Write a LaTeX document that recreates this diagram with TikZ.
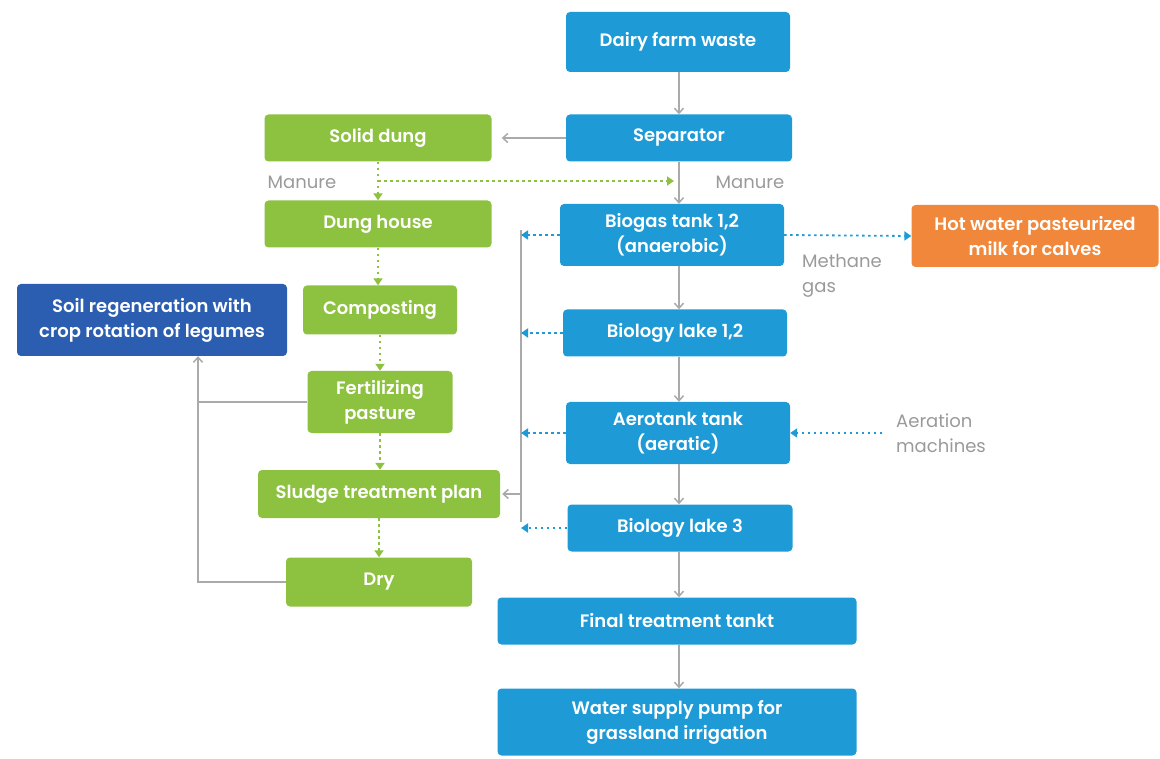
\documentclass[tikz,border=0pt]{standalone}
\usepackage{fontspec}
\setmainfont{Poppins}[BoldFont={* SemiBold}]
\usetikzlibrary{arrows.meta}
\definecolor{cblue}{HTML}{1E9BD7}
\definecolor{cgreen}{HTML}{8DC140}
\definecolor{corange}{HTML}{F0873A}
\definecolor{cdark}{HTML}{2B5DB0}
\definecolor{cline}{HTML}{AAAAAA}
\definecolor{ctext}{HTML}{9A9A9A}
\tikzset{
  box/.style={rounded corners=4pt, text=white, font=\bfseries\fontsize{18}{25}\selectfont, align=center, inner sep=0pt, draw=none},
  bluebox/.style={box, fill=cblue},
  greenbox/.style={box, fill=cgreen},
  orangebox/.style={box, fill=corange},
  darkbox/.style={box, fill=cdark},
  flow/.style={draw=cline, line width=1.5pt, -{Straight Barb[length=5pt,width=9pt]}},
  plain/.style={draw=cline, line width=1.5pt},
  bdot/.style={draw=cblue, line width=1.8pt, dash pattern=on 2.5pt off 3.5pt, -{Triangle[length=7pt,width=9pt]}},
  gdot/.style={draw=cgreen, line width=1.8pt, dash pattern=on 2.5pt off 3.5pt, -{Triangle[length=7pt,width=9pt]}},
  lab/.style={text=ctext, font=\fontsize{18}{25}\selectfont, align=left, inner sep=0pt}
}
\begin{document}
\begin{tikzpicture}[x=1pt,y=-1pt]
\useasboundingbox (0,0) rectangle (1160,759);
% blue column
\node[bluebox, minimum width=224pt, minimum height=60pt] (dairy) at (678,42) {Dairy farm waste};
\node[bluebox, minimum width=226pt, minimum height=47pt] (sep) at (679,138) {Separator};
\node[bluebox, minimum width=224pt, minimum height=62pt] (biogas) at (672,235) {Biogas tank 1,2\\(anaerobic)};
\node[bluebox, minimum width=224pt, minimum height=47pt] (bl12) at (675,333) {Biology lake 1,2};
\node[bluebox, minimum width=224pt, minimum height=62pt] (aero) at (678,433) {Aerotank tank\\(aeratic)};
\node[bluebox, minimum width=225pt, minimum height=47pt] (bl3) at (680,528) {Biology lake 3};
\node[bluebox, minimum width=359pt, minimum height=47pt] (final) at (677,621) {Final treatment tankt};
\node[bluebox, minimum width=359pt, minimum height=67pt] (water) at (677,722) {Water supply pump for\\grassland irrigation};
% orange
\node[orangebox, minimum width=247pt, minimum height=62pt] (hot) at (1035,236) {Hot water pasteurized\\milk for calves};
% green column
\node[greenbox, minimum width=227pt, minimum height=47pt] (solid) at (378,138) {Solid dung};
\node[greenbox, minimum width=227pt, minimum height=47pt] (dung) at (378,224) {Dung house};
\node[greenbox, minimum width=154pt, minimum height=49pt] (comp) at (380,310) {Composting};
\node[greenbox, minimum width=145pt, minimum height=62pt] (fert) at (380,402) {Fertilizing\\pasture};
\node[greenbox, minimum width=242pt, minimum height=48pt] (sludge) at (379,494) {Sludge treatment plan};
\node[greenbox, minimum width=186pt, minimum height=49pt] (dry) at (379,582) {Dry};
% dark
\node[darkbox, minimum width=270pt, minimum height=72pt] (soil) at (152,320) {Soil regeneration with\\crop rotation of legumes};
% labels
\node[lab] (manL) at (302,182) {Manure};
\node[lab] (manR) at (750,182) {Manure};
\node[lab, anchor=north west] (meth) at (802,254) {Methane\\gas};
\node[lab, anchor=west] (aerlab) at (896,433) {Aeration\\machines};
% coordinates
\coordinate (ax) at (679,0);
\coordinate (ml) at (378,181);
\coordinate (mr) at (674,181);
\coordinate (tt) at (521,230);
\coordinate (tb) at (521,522);
\coordinate (sl) at (198,582);
% main gray flow
\draw[flow] (ax |- dairy.south) -- (ax |- sep.north);
\draw[flow, shorten >=10pt] (sep.west) -- (solid.east);
\draw[flow] (ax |- sep.south) -- (ax |- biogas.north);
\draw[flow] (ax |- biogas.south) -- (ax |- bl12.north);
\draw[flow] (ax |- bl12.south) -- (ax |- aero.north);
\draw[flow] (ax |- aero.south) -- (ax |- bl3.north);
\draw[flow] (ax |- bl3.south) -- (ax |- final.north);
\draw[flow] (ax |- final.south) -- (ax |- water.north);
% trunk
\draw[plain] (tt) -- (tb);
\draw[flow, shorten >=2pt] (sludge.east -| tt) -- (sludge.east);
\draw[bdot] (biogas.west) -- (biogas.west -| tt);
\draw[bdot] (bl12.west) -- (bl12.west -| tt);
\draw[bdot] (aero.west) -- (aero.west -| tt);
\draw[bdot] (bl3.west) -- (bl3.west -| tt);
% blue dotted right
\draw[bdot] (biogas.east) -- (hot.west);
\draw[bdot] ([xshift=-14pt]aerlab.west) -- (aero.east);
% green dotted
\draw[gdot] (solid.south) -- (dung.north);
\draw[gdot] (ml) -- (mr);
\draw[gdot] (dung.south) -- (dung.south |- comp.north);
\draw[gdot] (comp.south) -- (comp.south |- fert.north);
\draw[gdot] (fert.south) -- (fert.south |- sludge.north);
\draw[gdot] (sludge.south) -- (sludge.south |- dry.north);
% to soil
\draw[plain] (fert.west) -- (fert.west -| sl);
\draw[flow] (dry.west) -- (sl) -- (sl |- soil.south);
\end{tikzpicture}
\end{document}
